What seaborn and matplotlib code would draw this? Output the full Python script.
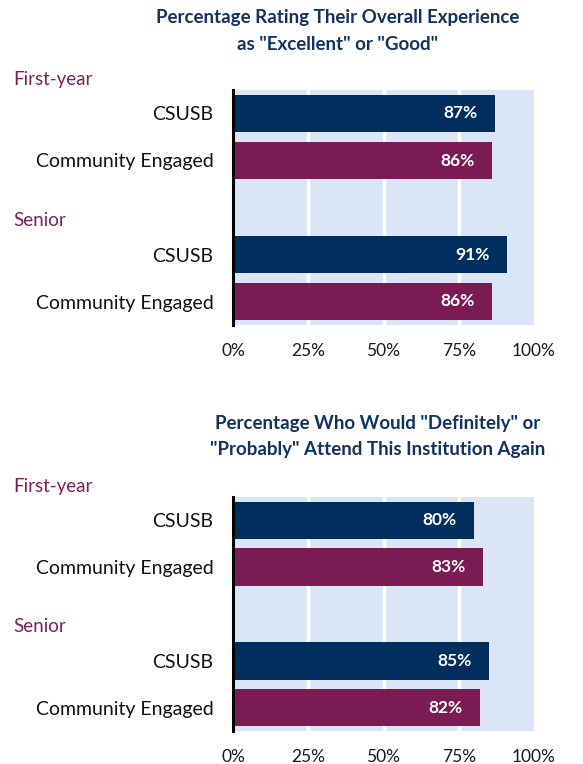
import matplotlib
matplotlib.use("Agg")
import matplotlib.pyplot as plt
import matplotlib.transforms as mtransforms
import pandas as pd
import seaborn as sns

# data
groups = ["First-year", "First-year", "Senior", "Senior"]
institutions = ["CSUSB", "Community Engaged", "CSUSB", "Community Engaged"]
experience = [0.87, 0.86, 0.91, 0.86]
attend_again = [0.80, 0.83, 0.85, 0.82]
titles = ['Percentage Rating Their Overall Experience\nas "Excellent" or "Good"',
          'Percentage Who Would "Definitely" or\n"Probably" Attend This Institution Again']
x_ticks = [0, 0.25, 0.5, 0.75, 1.0]
x_labels = ["0%", "25%", "50%", "75%", "100%"]

NAVY = "#002e5d"
PURPLE = "#7a1b54"
TITLE_COLOR = "#10335f"
GROUP_COLOR = "#7b2158"
BG = "#dae5f6"

sns.set_theme(style="white")
plt.rcParams["font.family"] = ["Lato", "DejaVu Sans"]

# leave an empty slot between the two groups
positions = []
slot = 0
for i, g in enumerate(groups):
    if i > 0 and g != groups[i - 1]:
        slot += 1
    positions.append(slot)
    slot += 1

W, H = 583, 764
fig = plt.figure(figsize=(W / 100, H / 100), dpi=100)

panels = [
    (experience, titles[0], (90, 325), 338, (17, 45)),
    (attend_again, titles[1], (497, 731), 378, (423, 449)),
]

for values, title, (top, bottom), title_x, title_ys in panels:
    ax = fig.add_axes([233 / W, 1 - bottom / H, (534 - 233) / W, (bottom - top) / H])
    ax.set_facecolor(BG)
    df = pd.DataFrame({"pos": positions, "value": values, "inst": institutions})
    sns.barplot(data=df, x="value", y="pos", hue="inst", orient="h",
                native_scale=True, dodge=False, width=0.8, saturation=1,
                palette={"CSUSB": NAVY, "Community Engaged": PURPLE},
                legend=False, ax=ax, zorder=3, linewidth=0)
    ax.set_xlim(0, 1.0)
    ax.set_ylim(max(positions) + 0.5, -0.5)
    for xv in x_ticks[1:-1]:
        ax.axvline(xv, color="white", lw=2.4, zorder=1)
    ax.set_xticks(x_ticks)
    ax.set_xticklabels(x_labels, fontsize=12.5, color="#1a1a1a")
    ax.set_yticks(positions)
    ax.set_yticklabels(institutions, fontsize=14, color="#111111")
    ax.tick_params(axis="x", length=0, pad=13)
    ax.tick_params(axis="y", length=0, pad=14)
    ax.set_xlabel("")
    ax.set_ylabel("")
    for s in ["top", "right", "bottom"]:
        ax.spines[s].set_visible(False)
    ax.spines["left"].set_color("black")
    ax.spines["left"].set_linewidth(2.2)
    ax.spines["left"].set_zorder(5)

    for p, v in zip(positions, values):
        ax.annotate(f"{round(v * 100)}%", xy=(v, p), xytext=(-17, 0),
                    textcoords="offset pixels", ha="right", va="center",
                    color="white", fontsize=12.5, fontweight="bold", zorder=6)

    # group labels on the left
    trans = mtransforms.blended_transform_factory(fig.transFigure, ax.transData)
    seen = []
    for p, g in zip(positions, groups):
        if g in seen:
            continue
        seen.append(g)
        ax.text(13 / W, p - 0.73, g, transform=trans, ha="left", va="center",
                fontsize=13.5, color=GROUP_COLOR)

    line1, line2 = title.split("\n")
    fig.text(title_x / W, 1 - title_ys[0] / H, line1, ha="center", va="center",
             fontsize=13.5, fontweight="bold", color=TITLE_COLOR)
    fig.text(title_x / W, 1 - title_ys[1] / H, line2, ha="center", va="center",
             fontsize=13.5, fontweight="bold", color=TITLE_COLOR)

fig.savefig("out.png", dpi=100, facecolor="white")
